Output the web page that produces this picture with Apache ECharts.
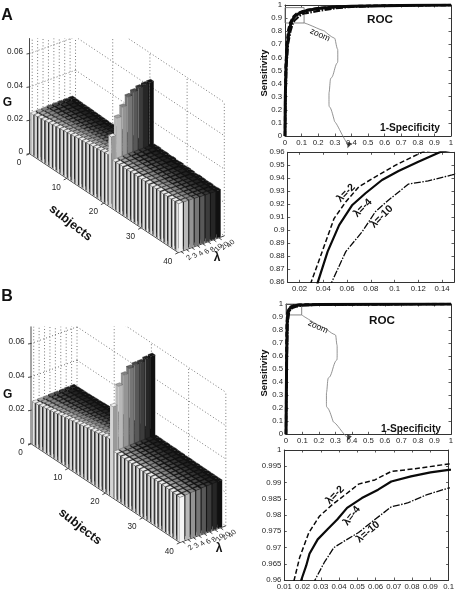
<!DOCTYPE html>
<html><head><meta charset="utf-8">
<style>html,body{margin:0;padding:0;background:#fff}#c{width:457px;height:591px}</style>
<script src="https://cdn.jsdelivr.net/npm/echarts@6/dist/echarts.min.js"></script>
</head><body><div id="c"></div>
<script>
// ---------- data: G values (x 0.001) per subject, one list per lambda ----------
const lambdaLabels = ['2','3','4','6','8','10','20','40'];
const subjectTicks = [0,10,20,30,40];
const gTicks = [0,0.02,0.04,0.06];

const gA_2  = [24.5,24.8,25.1,25.4,25.8,26.0,26.3,26.6,26.9,27.2,27.5,27.8,28.1,28.3,28.6,28.9,29.2,29.5,29.8,30.1,30.4,42.3,28.9,29.0,29.1,28.9,29.0,29.2,29.0,28.9,29.1,29.0,28.8,29.0,29.1,28.9,29.0,28.8,29.0,29.0];
const gA_3  = [24.7,24.9,25.2,25.4,25.7,25.9,26.1,26.4,26.6,26.8,27.0,27.3,27.6,27.9,28.1,28.4,28.7,29.0,29.3,29.7,30.0,52.4,29.0,29.1,29.0,29.0,29.1,29.0,29.1,28.9,29.0,29.0,28.8,28.9,29.0,28.9,28.8,28.8,28.9,28.9];
const gA_4  = [24.8,25.0,25.2,25.4,25.6,25.8,26.0,26.2,26.3,26.5,26.6,26.9,27.2,27.5,27.7,28.0,28.3,28.6,28.9,29.2,29.5,57.8,29.1,29.1,29.0,29.1,29.0,29.0,29.0,28.9,28.9,28.9,28.8,28.8,28.9,28.7,28.8,28.7,28.7,28.8];
const gA_6  = [25.0,25.1,25.2,25.3,25.5,25.6,25.7,25.8,25.9,26.0,26.1,26.4,26.7,27.0,27.3,27.6,27.8,28.1,28.4,28.7,29.0,62.8,29.2,29.1,29.1,29.0,29.1,28.9,29.0,28.9,28.8,28.9,28.7,28.8,28.7,28.6,28.7,28.6,28.6,28.7];
const gA_8  = [25.1,25.2,25.2,25.3,25.4,25.4,25.5,25.5,25.6,25.6,25.6,25.9,26.2,26.5,26.8,27.1,27.3,27.6,27.9,28.2,28.4,64.5,29.2,29.3,29.0,29.1,29.0,29.0,28.9,28.9,28.7,28.8,28.7,28.6,28.6,28.6,28.4,28.5,28.4,28.5];
const gA_10 = [25.2,25.3,25.2,25.2,25.3,25.2,25.3,25.2,25.3,25.2,25.2,25.5,25.8,26.1,26.4,26.6,26.8,27.1,27.3,27.6,27.9,65.7,29.2,29.4,29.0,29.1,28.9,29.0,28.8,28.9,28.6,28.8,28.6,28.4,28.5,28.5,28.3,28.4,28.2,28.4];
const gA_20 = [25.3,25.3,25.2,25.2,25.2,25.1,25.1,25.0,25.0,24.9,24.8,25.1,25.4,25.7,25.9,26.2,26.4,26.7,26.9,27.2,27.4,66.3,29.2,29.4,29.0,29.1,28.8,29.1,28.7,28.9,28.5,28.8,28.6,28.3,28.5,28.4,28.2,28.4,28.1,28.3];
const gA_40 = [25.4,25.3,25.2,25.1,25.1,25.0,24.9,24.8,24.7,24.6,24.5,24.8,25.0,25.3,25.5,25.8,26.0,26.3,26.5,26.8,27.0,66.5,29.2,29.4,29.0,29.1,28.8,29.1,28.7,28.9,28.5,28.8,28.6,28.2,28.5,28.4,28.2,28.4,28.1,28.3];

const gB_2  = [25.4,25.8,26.2,26.6,27.0,27.5,27.9,28.3,28.8,29.2,29.6,30.0,30.4,30.9,31.3,31.7,32.1,32.5,32.9,33.4,33.8,54.4,28.0,28.0,27.9,27.9,27.8,27.8,27.7,27.7,27.6,27.5,27.5,27.4,27.3,27.3,27.2,27.1,27.0,26.8];
const gB_3  = [25.6,25.9,26.3,26.6,26.9,27.3,27.7,28.0,28.4,28.8,29.1,29.5,29.9,30.3,30.7,31.1,31.5,31.9,32.3,32.7,33.1,65.5,28.1,28.1,28.0,28.0,27.9,27.9,27.8,27.8,27.7,27.7,27.6,27.6,27.5,27.5,27.4,27.3,27.2,27.1];
const gB_4  = [25.7,26.0,26.3,26.6,26.9,27.2,27.5,27.8,28.1,28.4,28.7,29.1,29.4,29.8,30.2,30.6,30.9,31.3,31.7,32.1,32.5,71.0,28.2,28.2,28.1,28.1,28.0,28.0,27.9,27.9,27.8,27.8,27.8,27.7,27.7,27.6,27.5,27.5,27.4,27.3];
const gB_6  = [25.9,26.1,26.4,26.6,26.8,27.1,27.3,27.6,27.8,28.1,28.3,28.6,29.0,29.3,29.7,30.0,30.4,30.7,31.1,31.4,31.8,73.8,28.3,28.3,28.2,28.2,28.1,28.1,28.0,28.1,27.9,28.0,27.9,27.9,27.8,27.8,27.7,27.7,27.6,27.5];
const gB_8  = [26.0,26.2,26.4,26.6,26.8,27.0,27.2,27.4,27.6,27.8,27.9,28.2,28.5,28.9,29.2,29.5,29.8,30.1,30.4,30.7,31.1,74.7,28.4,28.4,28.3,28.3,28.2,28.2,28.2,28.2,28.1,28.1,28.0,28.0,28.0,27.9,27.9,27.9,27.8,27.8];
const gB_10 = [26.1,26.3,26.5,26.6,26.8,26.9,27.1,27.2,27.4,27.5,27.6,27.9,28.1,28.4,28.7,29.0,29.3,29.6,29.9,30.2,30.6,74.8,28.5,28.5,28.4,28.4,28.3,28.4,28.3,28.3,28.2,28.2,28.1,28.1,28.1,28.1,28.0,28.0,27.9,27.9];
const gB_20 = [26.3,26.4,26.5,26.6,26.7,26.9,27.0,27.1,27.2,27.3,27.4,27.6,27.9,28.1,28.4,28.7,29.0,29.2,29.5,29.8,30.2,75.8,28.6,28.6,28.5,28.5,28.4,28.4,28.3,28.4,28.2,28.3,28.2,28.2,28.1,28.1,28.1,28.1,28.0,28.0];
const gB_40 = [26.4,26.5,26.6,26.6,26.7,26.8,26.9,27.0,27.2,27.3,27.4,27.6,27.8,28.0,28.3,28.5,28.8,29.1,29.4,29.7,30.0,76.2,28.6,28.6,28.5,28.5,28.4,28.5,28.3,28.4,28.2,28.3,28.2,28.2,28.1,28.1,28.1,28.1,28.0,28.0];

// ROC curves, panel A: [1-specificity, sensitivity]
const rocA_2  = [[0,0],[.001,.3],[.004,.53],[.01,.7],[.02,.81],[.0297,.86],[.038,.881],[.049,.909],[.059,.922],[.07,.9336],[.0866,.9426],[.1005,.95],[.123,.96],[.2,.976],[.3,.986],[.4,.991],[.6,.996],[.8,.998],[1,1]];
const rocA_4  = [[0,0],[.002,.3],[.006,.53],[.014,.7],[.025,.8],[.0353,.86],[.0436,.8836],[.0533,.904],[.0644,.9195],[.0755,.9285],[.0894,.9387],[.1033,.9456],[.12,.9528],[.138,.96],[.2,.973],[.3,.984],[.4,.99],[.6,.995],[.8,.998],[1,1]];
const rocA_10 = [[0,0],[.004,.3],[.009,.53],[.018,.7],[.033,.8],[.047,.86],[.0589,.8836],[.0728,.899],[.0839,.9144],[.095,.9233],[.1117,.9356],[.1283,.938],[.1483,.9426],[.2,.955],[.3,.975],[.4,.986],[.6,.994],[.8,.997],[1,1]];
// ROC curves, panel B
const rocB_2  = [[0,0],[.001,.3],[.002,.6],[.004,.85],[.008,.93],[.0154,.96],[.0184,.9669],[.0234,.9745],[.0292,.9796],[.0363,.9832],[.0435,.9863],[.0507,.9895],[.0596,.9908],[.0686,.9934],[.0811,.9942],[.1,.9957],[.2,.997],[.5,.998],[1,1]];
const rocB_4  = [[0,0],[.002,.3],[.004,.6],[.007,.85],[.012,.93],[.0193,.96],[.022,.9644],[.0238,.9681],[.0283,.9725],[.0337,.9756],[.039,.9786],[.0444,.9822],[.0525,.9852],[.0614,.9878],[.0686,.9903],[.0794,.9919],[.0901,.9931],[.1,.9939],[.2,.996],[.5,.998],[1,1]];
const rocB_10 = [[0,0],[.003,.3],[.006,.6],[.01,.85],[.018,.93],[.0268,.96],[.0319,.9654],[.0372,.97],[.0435,.9722],[.0507,.9746],[.0596,.9786],[.0686,.9825],[.0775,.9837],[.0883,.9863],[.1,.9883],[.2,.994],[.5,.997],[1,1]];
// zoom box and the curved leader line, in ROC coordinates
const boxA = [[0,.8626],[.115,.8626],[.115,.98],[0,.98],[0,.8626]];
const boxB = [[0,.916],[.095,.916],[.095,1],[0,1],[0,.916]];
const leaderA = [[.114,.863],[.19,.825],[.265,.772],[.308,.7],[.318,.62],[.297,.5],[.27,.385],[.265,.28],[.286,.17],[.328,.05],[.383,-.072]];
const leaderB = [[.095,.916],[.186,.845],[.262,.79],[.305,.72],[.31,.64],[.283,.5],[.25,.37],[.245,.27],[.272,.15],[.325,.045],[.378,-.03]];

// ---------- style ----------
const FONT = '"Liberation Sans", Arial, sans-serif';
const INK = '#262626';
const rowSide = ['#f4f4f4','#b8b8b8','#949494','#767676','#585858','#3c3c3c','#262626','#101010'];
const rowTop  = ['#eeeeee','#a4a4a4','#828282','#646464','#4a4a4a','#343434','#222222','#141414'];

// oblique view of the 3-D box
const VIEW = {pxS:3.72, pxG:1670, lamShift:12.37, lamRise:0.0100, subjDrop:0.00148};
const rowFrom = i => (i+0.1)/8.5, rowTo = i => (i+0.9)/8.5;
const project = (s,l,g) => [s + VIEW.lamShift*l, g - VIEW.subjDrop*s + VIEW.lamRise*l];

function bars3d(rows){
  const out=[];
  for(let r=rows.length-1;r>=0;r--) rows[r].forEach((v,i)=>out.push([i+1,r,v/1000]));
  return out;
}
function renderBar(params, api){
  const s=api.value(0), r=api.value(1), g=api.value(2);
  const s0=s-0.9, s1=s-0.1, l0=rowFrom(r), l1=rowTo(r);
  const P=(a,b,c)=>api.coord(project(a,b,c));
  const front=[P(s0,l0,0),P(s1,l0,0),P(s1,l0,g),P(s0,l0,g)];
  const side=[P(s1,l0,0),P(s1,l1,0),P(s1,l1,g),P(s1,l0,g)];
  const top=[P(s0,l0,g),P(s1,l0,g),P(s1,l1,g),P(s0,l1,g)];
  const tall = g>0.035;
  let fFill, sFill;
  if(r===0){
    fFill = new echarts.graphic.LinearGradient(0,0,1,0,[{offset:0,color:'#707070'},{offset:.6,color:'#f2f2f2'},{offset:1,color:'#a8a8a8'}]);
    sFill = s===40 ? rowSide[0] : (tall? '#9a9a9a':'#1c1c1c');
    if(tall) fFill='#d4d4d4';
  } else {
    fFill = tall ? rowSide[r] : '#161616';
    sFill = (s===40||tall) ? rowSide[r] : '#0e0e0e';
  }
  return {type:'group',silent:true,children:[
    {type:'polygon',shape:{points:front},style:{fill:fFill}},
    {type:'polygon',shape:{points:side},style:{fill:sFill}},
    {type:'polygon',shape:{points:top},style:{fill:rowTop[r],stroke:r<3?'#555':'#111',lineWidth:.4}}
  ]};
}
function renderWalls(params, api){
  const P=(a,b,c)=>api.coord(project(a,b,c));
  const dot={stroke:'#555',lineWidth:.8,lineDash:[1,2.2],fill:null};
  const lines=[];
  const seg=(a,b)=>lines.push({type:'line',shape:{x1:a[0],y1:a[1],x2:b[0],y2:b[1]},style:dot});
  [0.02,0.04,0.06,0.08].forEach(g=>{
    seg(P(0,0,g),P(0,1,g));
    seg(P(0,1,g),P(40,1,g));
  });
  seg(P(0,1,0),P(40,1,0));
  [0,10,20,30,40].forEach(s=>seg(P(s,1,0),P(s,1,0.08)));
  lambdaLabels.forEach((_,i)=>seg(P(0,(rowFrom(i)+rowTo(i))/2,0),P(0,(rowFrom(i)+rowTo(i))/2,0.08)));
  return {type:'group',silent:true,children:lines};
}
function renderAxes3d(params, api){
  const P=(a,b,c)=>api.coord(project(a,b,c));
  const ink={stroke:'#333',lineWidth:.9,fill:null};
  const kids=[];
  const seg=(a,b)=>kids.push({type:'line',shape:{x1:a[0],y1:a[1],x2:b[0],y2:b[1]},style:ink});
  const txt=(t,p,dx,dy,align,size,rot)=>kids.push({type:'text',x:p[0]+dx,y:p[1]+dy,rotation:rot||0,
     style:{text:t,fill:INK,font:size+'px '+FONT,align:align,verticalAlign:'middle'}});
  seg(P(0,0,0),P(40,0,0));
  seg(P(40,0,0),P(40,1,0));
  seg(P(0,0,0),P(0,0,params.context.top||0.07));
  gTicks.forEach(g=>{
    const p=P(0,0,g); seg([p[0]-3,p[1]+0.5],p);
    txt(String(g),p,-6.5,-1.5,'right',8.2);
  });
  subjectTicks.forEach(s=>{
    const p=P(s,0,0); seg(p,[p[0]-3,p[1]+1.5]);
    txt(String(s),p,-10.5,9,'center',8.2);
  });
  lambdaLabels.forEach((t,i)=>{
    const l=(rowFrom(i)+rowTo(i))/2, p=P(40,l,0);
    seg(p,[p[0]+2.8,p[1]+1.9]);
    txt(t,p,8+i*0.55,6,'center',7.4,Math.PI/4);
  });
  return {type:'group',silent:true,children:kids};
}

// ---------- layout ----------
const panels3d=[
  {ox:29.5,oy:153.7,top:0.0692,rows:[gA_2,gA_3,gA_4,gA_6,gA_8,gA_10,gA_20,gA_40]},
  {ox:31,  oy:443.7,top:0.0702,rows:[gB_2,gB_3,gB_4,gB_6,gB_8,gB_10,gB_20,gB_40]}
];
const grids=[],xAxes=[],yAxes=[],series=[];
panels3d.forEach((p,i)=>{
  grids.push({left:p.ox-VIEW.pxS,top:p.oy-p.top*VIEW.pxG,width:55*VIEW.pxS,height:(p.top+0.08)*VIEW.pxG});
  xAxes.push({gridIndex:i,type:'value',min:-1,max:54,show:false});
  yAxes.push({gridIndex:i,type:'value',min:-0.08,max:p.top,show:false});
  series.push({type:'custom',xAxisIndex:i,yAxisIndex:i,clip:true,renderItem:renderWalls,data:[[0,0]],silent:true,z:1});
  series.push({type:'custom',xAxisIndex:i,yAxisIndex:i,renderItem:(pr,api)=>{pr.context.top=p.top;return renderAxes3d(pr,api);},data:[[0,0]],silent:true,z:2});
  series.push({type:'custom',xAxisIndex:i,yAxisIndex:i,renderItem:renderBar,data:bars3d(p.rows),progressive:0,silent:true,z:3,
    encode:{x:0,y:2}});
});

function addPlot(cfg){
  const g=grids.length;
  grids.push({left:cfg.l,top:cfg.t,width:cfg.r-cfg.l,height:cfg.b-cfg.t});
  const lineS={show:true,onZero:false,lineStyle:{color:'#333',width:1}};
  const fmt=v=>String(+(+v).toFixed(3));
  const xi=xAxes.length, yi=yAxes.length;
  const xT=cfg.xCustom?{customValues:cfg.xCustom}:{};
  const mk=(extra,base)=>Object.assign({type:'value',gridIndex:g,splitLine:{show:false},axisLine:lineS,
      animation:false},base,extra);
  xAxes.push(mk({position:'bottom',
    axisTick:Object.assign({inside:true,length:2.5,lineStyle:{color:'#333',width:.8}},xT),
    axisLabel:Object.assign({color:INK,fontSize:cfg.fs||7.8,fontFamily:FONT,margin:cfg.mx||3,formatter:fmt,showMinLabel:true,showMaxLabel:true,hideOverlap:false},xT)},
    {min:cfg.x[0],max:cfg.x[1],interval:cfg.x[2]}));
  xAxes.push(mk({position:'top',
    axisTick:Object.assign({inside:true,length:2.5,lineStyle:{color:'#333',width:.8}},xT),
    axisLabel:{show:false}},{min:cfg.x[0],max:cfg.x[1],interval:cfg.x[2]}));
  yAxes.push(mk({position:'left',
    axisTick:{inside:true,length:2.5,lineStyle:{color:'#333',width:.8}},
    axisLabel:{color:INK,fontSize:cfg.fs||7.8,fontFamily:FONT,margin:3,formatter:fmt,showMinLabel:true,showMaxLabel:true,hideOverlap:false}},
    {min:cfg.y[0],max:cfg.y[1],interval:cfg.y[2]}));
  yAxes.push(mk({position:'right',
    axisTick:{inside:true,length:2.5,lineStyle:{color:'#333',width:.8}},axisLabel:{show:false}},
    {min:cfg.y[0],max:cfg.y[1],interval:cfg.y[2]}));
  const W=cfg.w;
  [[cfg.c[2],[7,1.5,1.5,1.5],W[2]],[cfg.c[0],[5,2.5],W[0]],[cfg.c[1],'solid',W[1]]].forEach(([d,t,w])=>{
    series.push({type:'line',xAxisIndex:xi,yAxisIndex:yi,data:d,showSymbol:false,symbol:'none',clip:true,silent:true,
      lineStyle:{color:'#0a0a0a',width:w,type:t,cap:'butt'},z:4});
  });
  if(cfg.box){
    series.push({type:'line',xAxisIndex:xi,yAxisIndex:yi,data:cfg.box,symbol:'none',silent:true,clip:false,
      lineStyle:{color:'#777',width:.9},z:3});
    series.push({type:'line',xAxisIndex:xi,yAxisIndex:yi,data:cfg.leader,symbol:'none',smooth:0.9,silent:true,clip:false,
      lineStyle:{color:'#777',width:.8},z:3});
    series.push({type:'scatter',xAxisIndex:xi,yAxisIndex:yi,data:[cfg.leader[cfg.leader.length-1]],symbol:'triangle',symbolSize:[5,6],
      symbolRotate:158,itemStyle:{color:'#111'},clip:false,silent:true,z:5});
  }
}
addPlot({l:285,r:451,t:5,b:136,x:[0,1,.1],y:[0,1,.1],c:[rocA_2,rocA_4,rocA_10],w:[2.4,3,2.2],box:boxA,leader:leaderA});
addPlot({l:287.7,r:454,t:152.3,b:282.3,x:[.01,.15,.01],xCustom:[.02,.04,.06,.08,.1,.12,.14],y:[.86,.96,.01],c:[rocA_2,rocA_4,rocA_10],w:[1.5,2.2,1.3]});
addPlot({l:286,r:451,t:304,b:434.3,x:[0,1,.1],y:[0,1,.1],c:[rocB_2,rocB_4,rocB_10],w:[2.4,3,2.2],box:boxB,leader:leaderB});
addPlot({l:284.3,r:451.7,t:450,b:581,x:[.01,.1,.01],y:[.96,1,.005],c:[rocB_2,rocB_4,rocB_10],w:[1.5,2.2,1.3],fs:7.8});

// ---------- free text ----------
const T=(t,x,y,size,bold,deg,fam)=>({type:'text',x,y,rotation:(deg||0)*Math.PI/180,silent:true,z:20,
  style:{text:t,fill:'#111',font:(bold?'bold ':'')+size+'px '+(fam||FONT),align:'center',verticalAlign:'middle'}});
const labels=[
  T('A',7,16,16,true), T('B',7,297,16,true),
  T('G',7.5,103,12,true), T('G',7.7,395,12,true),
  T('subjects',70.7,223,12.5,true,-38), T('subjects',80,526.7,12.5,true,-38),
  T('λ',217,258,12,true), T('λ',219,549,12,true),
  T('Sensitivity',264.5,73,9.4,true,90), T('Sensitivity',264.5,373,9.4,true,90),
  T('ROC',380,20,11.7,true), T('ROC',382,321,11.7,true),
  T('1-Specificity',410,128,10.2,true), T('1-Specificity',411,429,10.2,true),
  T('zoom',320,35,8.6,false,-25), T('zoom',318,327,8.6,false,-25),
  T('λ=-2',346,193,10.5,true,45), T('λ=-4',362.7,208,10.5,true,45), T('λ=-10',381.7,216.7,10.5,true,45),
  T('λ=-2',335,495,10.5,true,45), T('λ=-4',351.7,515.7,10.5,true,52), T('λ=-10',368,532,10.5,true,40)
];

const chart=echarts.init(document.getElementById('c'),null,{renderer:'canvas'});
chart.setOption({animation:false,backgroundColor:'#fff',grid:grids,xAxis:xAxes,yAxis:yAxes,series:series,graphic:labels});
</script></body></html>
